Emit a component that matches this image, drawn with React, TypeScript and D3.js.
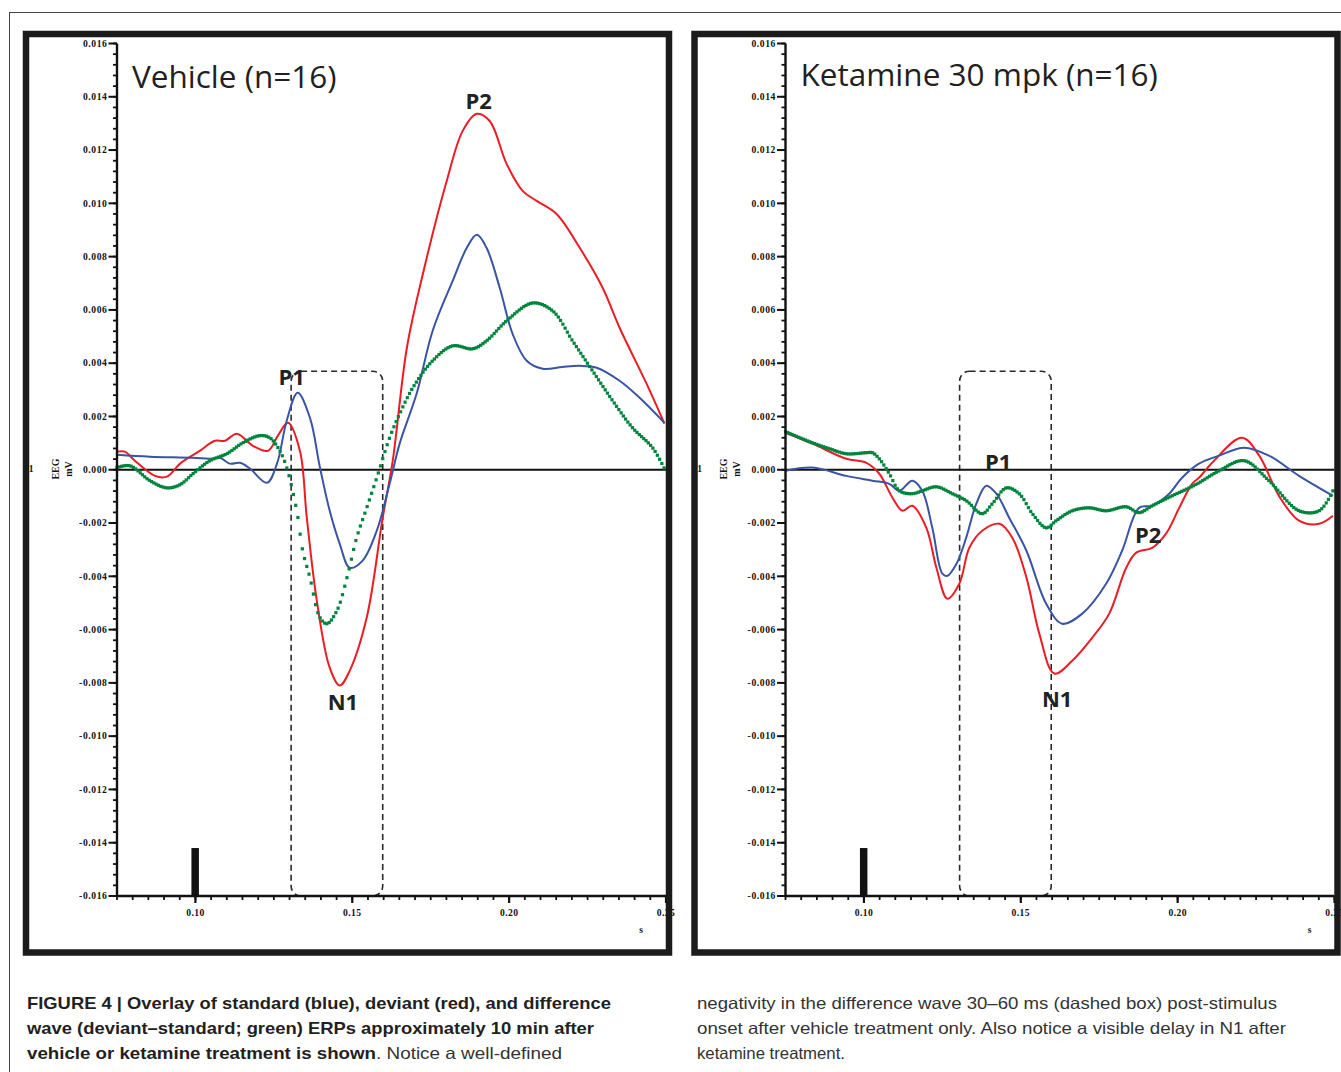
import React, { useEffect, useRef, useState } from "react";
import * as d3 from "d3";

// ---------- data (time in s, amplitude in axis units) ----------
const AMP_TICKS = [0.016, 0.014, 0.012, 0.01, 0.008, 0.006, 0.004, 0.002, 0, -0.002, -0.004, -0.006, -0.008, -0.01, -0.012, -0.014, -0.016];
const TIME_TICKS = [0.1, 0.15, 0.2, 0.25];
const TIME_DOMAIN: [number, number] = [0.075, 0.25];
const AMP_DOMAIN: [number, number] = [-0.016, 0.016];

const vehicleDeviant: [number, number][] = [
  [0.0750, 0.00068], [0.0775, 0.00068], [0.0807, 0.00034], [0.0871, -0.00023], [0.0909, -0.00026],
  [0.0951, 0.00023], [0.1014, 0.00071], [0.1062, 0.00109], [0.1094, 0.00109], [0.1132, 0.00135],
  [0.1183, 0.00090], [0.1231, 0.00071], [0.1263, 0.00128], [0.1295, 0.00176], [0.1333, 0.00071],
  [0.1355, -0.00180], [0.1387, -0.00492], [0.1428, -0.00743], [0.1460, -0.00810], [0.1492, -0.00754],
  [0.1546, -0.00555], [0.1597, -0.00180], [0.1629, 0.00034], [0.1674, 0.00458], [0.1725, 0.00735],
  [0.1801, 0.01084], [0.1852, 0.01272], [0.1897, 0.01336], [0.1938, 0.01309], [0.1992, 0.01148],
  [0.2043, 0.01047], [0.2088, 0.01009], [0.2151, 0.00960], [0.2225, 0.00833], [0.2298, 0.00683],
  [0.2352, 0.00533], [0.2438, 0.00323], [0.2495, 0.00173],
];

const vehicleStandard: [number, number][] = [
  [0.0750, 0.00056], [0.0855, 0.00049], [0.0992, 0.00045], [0.1046, 0.00041], [0.1078, 0.00045],
  [0.1110, 0.00023], [0.1142, 0.00026], [0.1174, 0.00004], [0.1228, -0.00049], [0.1260, 0.00023],
  [0.1291, 0.00184], [0.1326, 0.00289], [0.1365, 0.00195], [0.1397, 0.00008], [0.1428, -0.00154],
  [0.1460, -0.00278], [0.1492, -0.00368], [0.1533, -0.00341], [0.1578, -0.00229], [0.1619, -0.00053],
  [0.1651, 0.00098], [0.1705, 0.00285], [0.1756, 0.00521], [0.1820, 0.00709], [0.1865, 0.00833],
  [0.1897, 0.00882], [0.1928, 0.00833], [0.1970, 0.00683], [0.2011, 0.00510], [0.2056, 0.00409],
  [0.2107, 0.00379], [0.2170, 0.00386], [0.2225, 0.00390], [0.2279, 0.00383], [0.2352, 0.00334],
  [0.2416, 0.00270], [0.2495, 0.00176],
];

const vehicleDifference: [number, number][] = [
  [0.0750, 0.00008], [0.0791, 0.00015], [0.0855, -0.00041], [0.0909, -0.00068], [0.0951, -0.00056],
  [0.0992, -0.00015], [0.1046, 0.00034], [0.1100, 0.00060], [0.1151, 0.00101], [0.1205, 0.00128],
  [0.1237, 0.00120], [0.1269, 0.00071], [0.1291, 0.00008], [0.1323, -0.00154], [0.1342, -0.00304],
  [0.1365, -0.00405], [0.1397, -0.00555], [0.1419, -0.00578], [0.1451, -0.00529], [0.1483, -0.00405],
  [0.1514, -0.00255], [0.1546, -0.00143], [0.1578, -0.00030], [0.1619, 0.00120], [0.1651, 0.00210],
  [0.1693, 0.00308], [0.1756, 0.00409], [0.1820, 0.00465], [0.1884, 0.00454], [0.1928, 0.00484],
  [0.1992, 0.00559], [0.2075, 0.00626], [0.2139, 0.00596], [0.2202, 0.00484], [0.2266, 0.00371],
  [0.2330, 0.00259], [0.2393, 0.00158], [0.2457, 0.00083], [0.2495, 0.00004],
];

const ketamineDeviant: [number, number][] = [
  [0.0750, 0.00139], [0.0836, 0.00098], [0.0944, 0.00041], [0.1008, 0.00026], [0.1049, -0.00015],
  [0.1091, -0.00105], [0.1123, -0.00154], [0.1154, -0.00135], [0.1199, -0.00218], [0.1231, -0.00368],
  [0.1266, -0.00484], [0.1304, -0.00428], [0.1336, -0.00293], [0.1377, -0.00229], [0.1432, -0.00203],
  [0.1473, -0.00255], [0.1518, -0.00405], [0.1559, -0.00615], [0.1607, -0.00765], [0.1664, -0.00717],
  [0.1728, -0.00630], [0.1782, -0.00540], [0.1836, -0.00368], [0.1868, -0.00311], [0.1919, -0.00293],
  [0.1963, -0.00240], [0.2005, -0.00143], [0.2046, -0.00053], [0.2068, -0.00030], [0.2116, 0.00034],
  [0.2205, 0.00120], [0.2260, 0.00053], [0.2323, -0.00098], [0.2387, -0.00191], [0.2451, -0.00203],
  [0.2495, -0.00173],
];

const ketamineStandard: [number, number][] = [
  [0.0750, -0.00004], [0.0836, 0.00008], [0.0944, -0.00023], [0.1027, -0.00041], [0.1081, -0.00053],
  [0.1113, -0.00079], [0.1154, -0.00041], [0.1186, -0.00079], [0.1218, -0.00218], [0.1250, -0.00390],
  [0.1266, -0.00398], [0.1295, -0.00353], [0.1326, -0.00255], [0.1358, -0.00128], [0.1390, -0.00060],
  [0.1422, -0.00090], [0.1463, -0.00180], [0.1518, -0.00304], [0.1581, -0.00503], [0.1632, -0.00578],
  [0.1696, -0.00540], [0.1772, -0.00428], [0.1823, -0.00304], [0.1877, -0.00143], [0.1919, -0.00135],
  [0.1973, -0.00090], [0.2014, -0.00030], [0.2068, 0.00023], [0.2132, 0.00053], [0.2212, 0.00083],
  [0.2291, 0.00053], [0.2387, -0.00023], [0.2495, -0.00098],
];

const ketamineDifference: [number, number][] = [
  [0.0750, 0.00143], [0.0836, 0.00101], [0.0890, 0.00079], [0.0944, 0.00060], [0.1008, 0.00064],
  [0.1027, 0.00064], [0.1049, 0.00041], [0.1081, -0.00015], [0.1113, -0.00079], [0.1154, -0.00090],
  [0.1186, -0.00079], [0.1231, -0.00064], [0.1282, -0.00090], [0.1326, -0.00116], [0.1377, -0.00165],
  [0.1409, -0.00128], [0.1454, -0.00068], [0.1495, -0.00090], [0.1537, -0.00165], [0.1581, -0.00218],
  [0.1613, -0.00191], [0.1664, -0.00154], [0.1718, -0.00143], [0.1772, -0.00154], [0.1836, -0.00139],
  [0.1877, -0.00161], [0.1919, -0.00135], [0.1982, -0.00098], [0.2037, -0.00068], [0.2068, -0.00049],
  [0.2132, -0.00004], [0.2212, 0.00034], [0.2291, -0.00041], [0.2387, -0.00154], [0.2451, -0.00154],
  [0.2495, -0.00079],
];

const PANEL_TITLES = ["Vehicle (n=16)", "Ketamine 30 mpk (n=16)"];
const MMN_WINDOW: [number, number] = [0.1305, 0.1597];
const MMN_BOX_TOP = 0.0037;
const STIMULUS_TIME = 0.1;
const STIMULUS_TOP = -0.0142;

const COLORS = { deviant: "#ed1c24", standard: "#3a54a4", difference: "#00843d" };

// ---------- layout ----------
const W = 1341;
const H = 1072;
const Y_TOP = 43.5;
const Y_BOT = 896;

type Ann = { text: string; t: number; v: number };

function Panel({ dx, title, titleY, deviant, standard, difference, anns }: {
  dx: number; title: string; titleY: number;
  deviant: [number, number][]; standard: [number, number][]; difference: [number, number][];
  anns: Ann[];
}) {
  const axisX = 117 + dx;
  const plotRight = 666 + dx;
  const x = d3.scaleLinear().domain(TIME_DOMAIN).range([axisX, plotRight]);
  const y = d3.scaleLinear().domain(AMP_DOMAIN).range([Y_BOT, Y_TOP]);
  const line = d3.line<[number, number]>()
    .x((d) => x(d[0]))
    .y((d) => y(d[1]))
    .curve(d3.curveCatmullRom.alpha(0.5));

  const minorY = d3.range(-0.016, 0.01601, 0.0004);
  const minorX = d3.range(0.075, 0.2501, 0.005);
  const serif = "'Liberation Serif', 'DejaVu Serif', serif";

  // difference wave is rendered as sampled square dots (digitised look)
  const diffRef = useRef<SVGPathElement>(null);
  const [dots, setDots] = useState<[number, number][]>([]);
  useEffect(() => {
    const p = diffRef.current;
    if (!p) return;
    const L = p.getTotalLength();
    const pts: [number, number][] = [];
    let nextX = axisX;
    for (let s = 0; s <= L; s += 0.2) {
      const pt = p.getPointAtLength(s);
      if (pt.x >= nextX) {
        pts.push([pt.x, pt.y]);
        nextX = pt.x + 2.2;
      }
    }
    setDots(pts);
  }, [axisX]);

  return (
    <g>
      {/* dashed window box */}
      <rect
        x={x(MMN_WINDOW[0])}
        y={y(MMN_BOX_TOP)}
        width={x(MMN_WINDOW[1]) - x(MMN_WINDOW[0])}
        height={y(AMP_DOMAIN[0]) - y(MMN_BOX_TOP)}
        rx={10}
        fill="none"
        stroke="#2a2a2a"
        strokeWidth={1.6}
        strokeDasharray="6 4"
      />
      {/* stimulus marker */}
      <rect x={x(STIMULUS_TIME) - 4} y={y(STIMULUS_TOP)} width={7.5} height={y(AMP_DOMAIN[0]) - y(STIMULUS_TOP)} fill="#111" />
      {/* zero line */}
      <line x1={axisX} x2={plotRight} y1={y(0)} y2={y(0)} stroke="#111" strokeWidth={2.2} />
      {/* curves */}
      <path d={line(deviant) || ""} fill="none" stroke={COLORS.deviant} strokeWidth={2} />
      <path d={line(standard) || ""} fill="none" stroke={COLORS.standard} strokeWidth={2} />
      <path ref={diffRef} d={line(difference) || ""} fill="none" stroke="none" />
      {dots.map((d, i) => (
        <rect key={"d" + i} x={d[0] - 1.6} y={d[1] - 1.6} width={3.2} height={3.2} fill={COLORS.difference} />
      ))}

      {/* y axis */}
      <line x1={axisX} x2={axisX} y1={Y_TOP} y2={Y_BOT} stroke="#111" strokeWidth={2.4} />
      {minorY.map((v, i) => (
        <line key={"my" + i} x1={axisX - 4} x2={axisX} y1={y(v)} y2={y(v)} stroke="#111" strokeWidth={1.8} />
      ))}
      {AMP_TICKS.map((v, i) => (
        <g key={"Y" + i}>
          <line x1={axisX - 8.5} x2={axisX} y1={y(v)} y2={y(v)} stroke="#111" strokeWidth={2} />
          <text x={axisX - 9.5} y={y(v) + 3.3} textAnchor="end" fontFamily={serif} fontWeight="bold" fontSize={9.6} letterSpacing={0.6} fill="#111">
            {v.toFixed(3)}
          </text>
        </g>
      ))}
      {/* x axis */}
      <line x1={axisX} x2={plotRight} y1={Y_BOT} y2={Y_BOT} stroke="#111" strokeWidth={2.6} />
      {minorX.map((t, i) => (
        <line key={"mx" + i} x1={x(t)} x2={x(t)} y1={Y_BOT} y2={Y_BOT + 4} stroke="#111" strokeWidth={1.8} />
      ))}
      {TIME_TICKS.map((t, i) => (
        <g key={"X" + i}>
          <line x1={x(t)} x2={x(t)} y1={Y_BOT} y2={Y_BOT + 7} stroke="#111" strokeWidth={2.2} />
          <text x={x(t)} y={Y_BOT + 20} textAnchor="middle" fontFamily={serif} fontWeight="bold" fontSize={9.6} letterSpacing={0.4} fill="#111">
            {t.toFixed(2)}
          </text>
        </g>
      ))}
      <text x={641 + dx} y={933} textAnchor="middle" fontFamily={serif} fontWeight="bold" fontSize={9.5} fill="#111">s</text>
      <text x={31 + dx} y={472} textAnchor="middle" fontFamily={serif} fontWeight="bold" fontSize={9.5} fill="#111">1</text>
      <text transform={`translate(${58.5 + dx},469) rotate(-90)`} textAnchor="middle" fontFamily={serif} fontWeight="bold" fontSize={10} fill="#111">EEG</text>
      <text transform={`translate(${71.5 + dx},469) rotate(-90)`} textAnchor="middle" fontFamily={serif} fontWeight="bold" fontSize={10} fill="#111">mV</text>

      {/* annotations */}
      {anns.map((a, i) => (
        <text key={"a" + i} x={x(a.t)} y={y(a.v)} textAnchor="middle" fontFamily="'Open Sans', 'Noto Sans', sans-serif" fontWeight="bold" fontSize={22} fill="#222">
          {a.text}
        </text>
      ))}
      {/* title */}
      <text x={132 + dx} y={titleY} fontFamily="'Open Sans', 'Noto Sans', sans-serif" fontSize={31.5} fill="#231f20">{title}</text>

      {/* frame */}
      <rect x={26 + dx} y={34} width={643} height={918.5} fill="none" stroke="#1b1b1b" strokeWidth={6.5} />
    </g>
  );
}

export default function App() {
  const capFont = "'Liberation Sans Narrow', 'Liberation Sans', Arial, sans-serif";
  const capSize = 16.5;
  return (
    <svg width={W} height={H} style={{ position: "absolute", left: 0, top: 0, display: "block", background: "#fff" }}>
      <rect x={0} y={0} width={W} height={H} fill="#fff" />
      <line x1={9} x2={W} y1={12.5} y2={12.5} stroke="#444" strokeWidth={1} />
      <line x1={9.5} x2={9.5} y1={12} y2={H} stroke="#444" strokeWidth={1} />

      <Panel
        dx={0}
        title={PANEL_TITLES[0]}
        titleY={88}
        deviant={vehicleDeviant}
        standard={vehicleStandard}
        difference={vehicleDifference}
        anns={[
          { text: "P2", t: 0.1903, v: 0.01356 },
          { text: "P1", t: 0.1307, v: 0.00317 },
          { text: "N1", t: 0.147, v: -0.00902 },
        ]}
      />
      <Panel
        dx={668.5}
        title={PANEL_TITLES[1]}
        titleY={86}
        deviant={ketamineDeviant}
        standard={ketamineStandard}
        difference={ketamineDifference}
        anns={[
          { text: "P1", t: 0.1428, v: 0.0 },
          { text: "N1", t: 0.1616, v: -0.0089 },
          { text: "P2", t: 0.1906, v: -0.00276 },
        ]}
      />

      {/* caption */}
      <g fontFamily={capFont} fontSize={capSize}>
        <text x={27} y={1009} fontWeight="bold" fill="#231f20" textLength={584} lengthAdjust="spacingAndGlyphs">
          FIGURE 4 | Overlay of standard (blue), deviant (red), and difference
        </text>
        <text x={27} y={1034} fontWeight="bold" fill="#231f20" textLength={567} lengthAdjust="spacingAndGlyphs">
          wave (deviant–standard; green) ERPs approximately 10 min after
        </text>
        <text x={27} y={1059} fontWeight="bold" fill="#231f20" textLength={349} lengthAdjust="spacingAndGlyphs">
          vehicle or ketamine treatment is shown
        </text>
        <text x={376} y={1059} fill="#333" textLength={186} lengthAdjust="spacingAndGlyphs">
          . Notice a well-defined
        </text>
        <text x={697} y={1009} fill="#333" textLength={580} lengthAdjust="spacingAndGlyphs">
          negativity in the difference wave 30–60 ms (dashed box) post-stimulus
        </text>
        <text x={697} y={1034} fill="#333" textLength={589} lengthAdjust="spacingAndGlyphs">
          onset after vehicle treatment only. Also notice a visible delay in N1 after
        </text>
        <text x={697} y={1059} fill="#333" textLength={148} lengthAdjust="spacingAndGlyphs">
          ketamine treatment.
        </text>
      </g>
    </svg>
  );
}
